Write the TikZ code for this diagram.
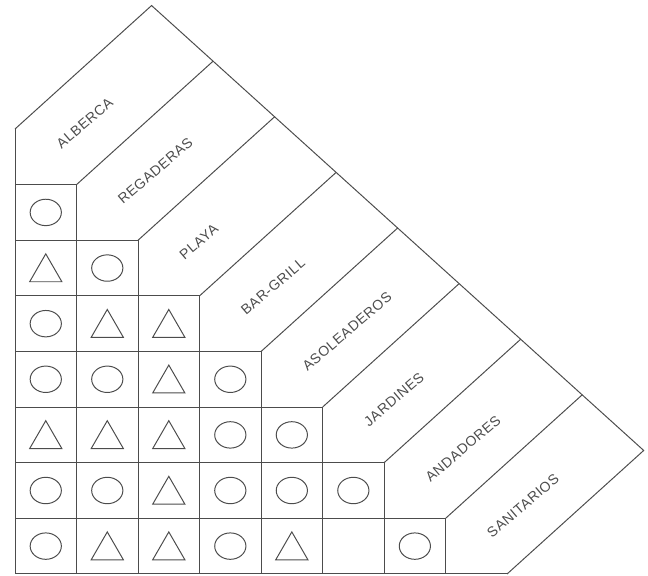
\documentclass[tikz,border=0pt]{standalone}
\usepackage{fontspec}
\setmainfont{Liberation Sans}
\newfontfamily\lblfont[LetterSpace=4]{Liberation Sans}
\usepackage{tikz}
\usetikzlibrary{shapes.geometric}

\def\dd{2.22}

\begin{document}
\begin{tikzpicture}[x=1.5375cm,y=1.39cm,line width=0.7pt,draw=black!70,
  every node/.style={draw=black!70,line width=0.7pt,inner sep=0pt},
  circ/.style={ellipse,minimum width=0.78cm,minimum height=0.66cm},
  tri/.style={regular polygon,regular polygon sides=3,minimum size=0.93cm,yshift=-0.11cm},
  lbl/.style={draw=none,text=black!70,font=\lblfont\fontsize{10}{11}\selectfont,anchor=west,rotate=40.5}]
  \useasboundingbox (-0.244,-0.036) rectangle (10.29,10.32);

  % grid of the matrix
  \draw (0,8) -- (0,0) -- (8,0);
  \draw (0,7) -- (1,7) -- (1,0);
  \draw (0,6) -- (2,6) -- (2,0);
  \draw (0,5) -- (3,5) -- (3,0);
  \draw (0,4) -- (4,4) -- (4,0);
  \draw (0,3) -- (5,3) -- (5,0);
  \draw (0,2) -- (6,2) -- (6,0);
  \draw (0,1) -- (7,1) -- (7,0);

  % diagonal bands
  \draw (0,8) -- ++(\dd,\dd) -- ++(8,-8) -- (8,0);
  \draw (1,7) -- ++(\dd,\dd);
  \draw (2,6) -- ++(\dd,\dd);
  \draw (3,5) -- ++(\dd,\dd);
  \draw (4,4) -- ++(\dd,\dd);
  \draw (5,3) -- ++(\dd,\dd);
  \draw (6,2) -- ++(\dd,\dd);
  \draw (7,1) -- ++(\dd,\dd);

  % labels
  \node[lbl] (alberca) at (0.7,7.7) {ALBERCA};
  \node[lbl] (regaderas) at (1.7,6.7) {REGADERAS};
  \node[lbl] (playa) at (2.7,5.7) {PLAYA};
  \node[lbl] (bargrill) at (3.7,4.7) {BAR-GRILL};
  \node[lbl] (asoleaderos) at (4.7,3.7) {ASOLEADEROS};
  \node[lbl] (jardines) at (5.7,2.7) {JARDINES};
  \node[lbl] (andadores) at (6.7,1.7) {ANDADORES};
  \node[lbl] (sanitarios) at (7.7,0.7) {SANITARIOS};

  % row 1
  \node[circ] (c11) at (0.5,6.5) {};
  % row 2
  \node[tri] (c21) at (0.5,5.5) {};
  \node[circ] (c22) at (1.5,5.5) {};
  % row 3
  \node[circ] (c31) at (0.5,4.5) {};
  \node[tri] (c32) at (1.5,4.5) {};
  \node[tri] (c33) at (2.5,4.5) {};
  % row 4
  \node[circ] (c41) at (0.5,3.5) {};
  \node[circ] (c42) at (1.5,3.5) {};
  \node[tri] (c43) at (2.5,3.5) {};
  \node[circ] (c44) at (3.5,3.5) {};
  % row 5
  \node[tri] (c51) at (0.5,2.5) {};
  \node[tri] (c52) at (1.5,2.5) {};
  \node[tri] (c53) at (2.5,2.5) {};
  \node[circ] (c54) at (3.5,2.5) {};
  \node[circ] (c55) at (4.5,2.5) {};
  % row 6
  \node[circ] (c61) at (0.5,1.5) {};
  \node[circ] (c62) at (1.5,1.5) {};
  \node[tri] (c63) at (2.5,1.5) {};
  \node[circ] (c64) at (3.5,1.5) {};
  \node[circ] (c65) at (4.5,1.5) {};
  \node[circ] (c66) at (5.5,1.5) {};
  % row 7
  \node[circ] (c71) at (0.5,0.5) {};
  \node[tri] (c72) at (1.5,0.5) {};
  \node[tri] (c73) at (2.5,0.5) {};
  \node[circ] (c74) at (3.5,0.5) {};
  \node[tri] (c75) at (4.5,0.5) {};
  \node[circ] (c77) at (6.5,0.5) {};
\end{tikzpicture}
\end{document}
